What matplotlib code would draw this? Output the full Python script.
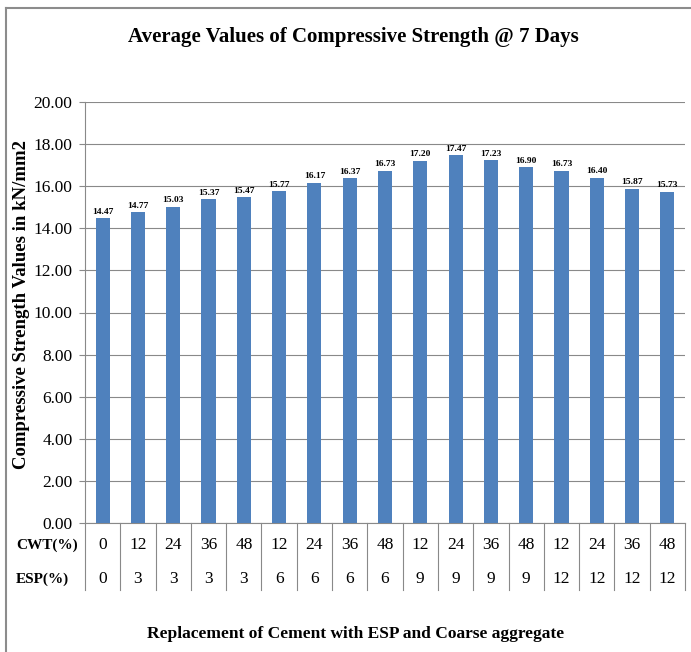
import matplotlib
matplotlib.use("Agg")
import matplotlib.pyplot as plt
from matplotlib.lines import Line2D
import numpy as np

cwt = [0, 12, 24, 36, 48, 12, 24, 36, 48, 12, 24, 36, 48, 12, 24, 36, 48]
esp = [0, 3, 3, 3, 3, 6, 6, 6, 6, 9, 9, 9, 9, 12, 12, 12, 12]
strength = [14.47, 14.77, 15.03, 15.37, 15.47, 15.77, 16.17, 16.37, 16.73,
            17.20, 17.47, 17.23, 16.90, 16.73, 16.40, 15.87, 15.73]

plt.rcParams['font.family'] = ['Liberation Serif', 'DejaVu Serif']

fig = plt.figure(figsize=(6.91, 6.52), dpi=100)
ax = fig.add_axes([85/691, (652-523)/652, 600/691, 421/652])

x = np.arange(len(strength))
bars = ax.bar(x, strength, width=0.4, color='#4f81bd', zorder=3)

# data labels
for xi, v in zip(x, strength):
    ax.text(xi, v + 0.12, '%.2f' % v, ha='center', va='bottom',
            fontsize=6.8, fontweight='bold')

ax.set_xlim(-0.5, len(strength) - 0.5)
ax.set_ylim(0, 20)
ax.set_yticks(np.arange(0, 21, 2))
ax.set_yticklabels(['%.2f' % t for t in np.arange(0, 21, 2)], fontsize=12.5)
ax.yaxis.grid(True, color='#898989', linewidth=0.8, zorder=0)
ax.set_xticks([])
ax.tick_params(axis='y', length=4, color='#898989', pad=5)
for s in ['top', 'right']:
    ax.spines[s].set_visible(False)
ax.spines['left'].set_color('#898989')
ax.spines['bottom'].set_color('#898989')

# data table under the axis
for i in range(len(strength) + 1):
    ax.plot([i - 0.5, i - 0.5], [0, -0.159], color='#898989', linewidth=0.8,
            transform=ax.get_xaxis_transform(), clip_on=False)
for xi, c, e in zip(x, cwt, esp):
    ax.text(xi, -0.053, str(c), ha='center', va='center', fontsize=12.5,
            transform=ax.get_xaxis_transform())
    ax.text(xi, -0.134, str(e), ha='center', va='center', fontsize=12.5,
            transform=ax.get_xaxis_transform())
ax.text(-0.115, -0.053, 'CWT(%)', ha='left', va='center', fontsize=11,
        fontweight='bold', transform=ax.transAxes)
ax.text(-0.115, -0.134, 'ESP(%)', ha='left', va='center', fontsize=11,
        fontweight='bold', transform=ax.transAxes)

ax.set_ylabel('Compressive Strength Values in kN/mm2', fontsize=13.5,
              fontweight='bold')
ax.yaxis.set_label_coords(-0.092, 0.518)

fig.text(353/691, 1 - 37/652, 'Average Values of Compressive Strength @ 7 Days',
         ha='center', va='center', fontsize=15, fontweight='bold')
fig.text(356/691, 1 - 634/652, 'Replacement of Cement with ESP and Coarse aggregate',
         ha='center', va='center', fontsize=12.5, fontweight='bold')

# chart border (left and top)
fig.add_artist(Line2D([6/691, 6/691], [0, 1 - 8/652], color='#8c8c8c', linewidth=1.5))
fig.add_artist(Line2D([6/691, 1], [1 - 8/652, 1 - 8/652], color='#8c8c8c', linewidth=1.5))

fig.savefig('out.png', dpi=100)
